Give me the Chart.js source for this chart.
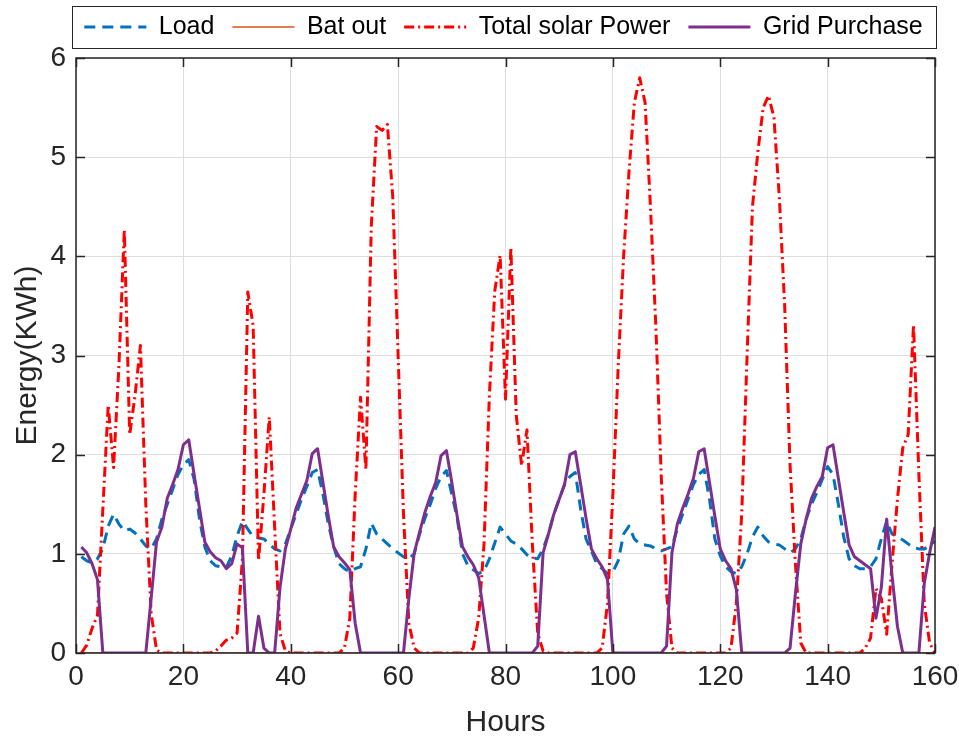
<!DOCTYPE html>
<html>
<head>
<meta charset="utf-8">
<script src="https://cdn.jsdelivr.net/npm/chart.js@4/dist/chart.umd.min.js"></script>
<style>
  html, body { margin: 0; padding: 0; background: #fff; }
  #wrap { width: 959px; height: 738px; }
</style>
</head>
<body>
<div id="wrap"><canvas id="energyChart" width="959" height="738"></canvas></div>
<script>
// hours 1..160
const hours = [];
for (let h = 1; h <= 160; h++) hours.push(h);

const xTicks = [0, 20, 40, 60, 80, 100, 120, 140, 160];
const yTicks = [0, 1, 2, 3, 4, 5, 6];

const load = [
    0.97, 0.93, 0.91, 0.95, 1.05, 1.28, 1.40, 1.30, 1.23, 1.25, 1.21, 1.15, 1.08, 1.05, 1.15, 1.35, 1.50, 1.65, 1.80, 1.90, 1.95, 1.75, 1.35, 1.07,
    0.93, 0.88, 0.87, 0.86, 0.98, 1.18, 1.33, 1.25, 1.17, 1.16, 1.15, 1.10, 1.05, 1.03, 1.10, 1.25, 1.40, 1.55, 1.68, 1.82, 1.85, 1.60, 1.30, 1.07,
    0.90, 0.85, 0.82, 0.85, 0.87, 1.05, 1.31, 1.20, 1.15, 1.10, 1.05, 1.01, 0.97, 0.95, 1.00, 1.20, 1.36, 1.50, 1.66, 1.78, 1.84, 1.60, 1.36, 1.00,
    0.88, 0.84, 0.80, 0.83, 0.95, 1.11, 1.27, 1.20, 1.13, 1.10, 1.05, 0.99, 0.96, 0.95, 1.05, 1.20, 1.40, 1.55, 1.70, 1.78, 1.82, 1.45, 1.15, 1.03,
    0.90, 0.85, 0.80, 0.82, 0.93, 1.20, 1.28, 1.15, 1.10, 1.09, 1.08, 1.05, 1.03, 1.05, 1.07, 1.25, 1.40, 1.55, 1.70, 1.80, 1.85, 1.55, 1.15, 0.98,
    0.87, 0.82, 0.80, 0.87, 1.00, 1.17, 1.27, 1.18, 1.12, 1.10, 1.09, 1.05, 1.01, 1.05, 1.15, 1.35, 1.50, 1.62, 1.75, 1.88, 1.80, 1.50, 1.17, 0.95,
    0.88, 0.85, 0.85, 0.87, 0.95, 1.15, 1.33, 1.20, 1.17, 1.14, 1.10, 1.06, 1.05, 1.05, 1.08, 1.13
];

const batOut = [
    0, 0, 0, 0, 0, 0, 0, 0, 0, 0, 0, 0, 0, 0, 0, 0, 0, 0, 0, 0, 0, 0, 0, 0,
    0, 0, 0, 0, 0, 0, 0, 0, 0, 0, 0, 0, 0, 0, 0, 0, 0, 0, 0, 0, 0, 0, 0, 0,
    0, 0, 0, 0, 0, 0, 0, 0, 0, 0, 0, 0, 0, 0, 0, 0, 0, 0, 0, 0, 0, 0, 0, 0,
    0, 0, 0, 0, 0, 0, 0, 0, 0, 0, 0, 0, 0, 0, 0, 0, 0, 0, 0, 0, 0, 0, 0, 0,
    0, 0, 0, 0, 0, 0, 0, 0, 0, 0, 0, 0, 0, 0, 0, 0, 0, 0, 0, 0, 0, 0, 0, 0,
    0, 0, 0, 0, 0, 0, 0, 0, 0, 0, 0, 0, 0, 0, 0, 0, 0, 0, 0, 0, 0, 0, 0, 0,
    0, 0, 0, 0, 0, 0, 0, 0, 0, 0, 0, 0, 0, 0, 0, 0
];

const solar = [
    0, 0.08, 0.25, 0.38, 1.45, 2.50, 1.87, 2.90, 4.27, 2.20, 2.60, 3.10, 1.50, 0.40, 0.03, 0, 0, 0, 0, 0, 0, 0, 0, 0,
    0, 0.02, 0.07, 0.13, 0.15, 0.20, 0.95, 3.64, 3.30, 0.93, 1.60, 2.38, 1.27, 0.20, 0.02, 0, 0, 0, 0, 0, 0, 0, 0, 0,
    0, 0.05, 0.35, 1.60, 2.58, 1.85, 4.30, 5.31, 5.27, 5.33, 4.60, 3.00, 1.40, 0.30, 0.05, 0, 0, 0, 0, 0, 0, 0, 0, 0,
    0, 0.05, 0.35, 1.10, 2.60, 3.65, 4.01, 2.56, 4.09, 2.40, 1.89, 2.25, 1.10, 0.20, 0.02, 0, 0, 0, 0, 0, 0, 0, 0, 0,
    0, 0.05, 0.50, 1.60, 2.90, 4.00, 4.85, 5.55, 5.80, 5.55, 4.50, 3.30, 1.80, 0.60, 0.05, 0, 0, 0, 0, 0, 0, 0, 0, 0,
    0, 0.05, 0.50, 1.40, 3.00, 4.50, 5.05, 5.50, 5.62, 5.40, 4.60, 3.50, 1.90, 0.90, 0.10, 0, 0, 0, 0, 0, 0, 0, 0, 0,
    0, 0, 0.05, 0.15, 0.65, 0.55, 0.19, 0.90, 1.55, 2.07, 2.20, 3.31, 1.80, 0.50, 0.10, 0
];

const gridPurchase = [
    1.07, 1.01, 0.90, 0.74, 0, 0, 0, 0, 0, 0, 0, 0, 0, 0.55, 1.12, 1.27, 1.56, 1.70, 1.85, 2.10, 2.15, 1.80, 1.46, 1.12,
    1.02, 0.96, 0.93, 0.85, 0.90, 1.10, 1.06, 0, 0, 0.37, 0.05, 0, 0, 0.66, 1.05, 1.25, 1.46, 1.60, 1.74, 2.01, 2.06, 1.72, 1.38, 1.07,
    0.97, 0.91, 0.84, 0.30, 0, 0, 0, 0, 0, 0, 0, 0, 0, 0.55, 1.01, 1.22, 1.42, 1.58, 1.72, 1.99, 2.04, 1.72, 1.38, 1.07,
    0.97, 0.89, 0.76, 0.38, 0, 0, 0, 0, 0, 0, 0, 0, 0, 0.07, 1.01, 1.20, 1.40, 1.55, 1.70, 2.00, 2.03, 1.70, 1.36, 1.05,
    0.95, 0.87, 0.74, 0, 0, 0, 0, 0, 0, 0, 0, 0, 0, 0.07, 1.01, 1.30, 1.46, 1.60, 1.76, 2.03, 2.06, 1.72, 1.38, 1.05,
    0.93, 0.85, 0.64, 0, 0, 0, 0, 0, 0, 0, 0, 0, 0.05, 0.60, 1.10, 1.35, 1.56, 1.68, 1.78, 2.07, 2.10, 1.76, 1.42, 1.09,
    0.97, 0.93, 0.89, 0.85, 0.35, 0.66, 1.35, 0.78, 0.27, 0, 0, 0, 0, 0.70, 1.01, 1.27
];

function points(values) {
    return values.map((v, i) => ({ x: hours[i], y: v }));
}

const FONT = "'Liberation Sans', Arial, sans-serif";
const AXIS = "#262626";

// inside tick marks, axes box and legend frame (MATLAB style)
const boxPlugin = {
    id: "boxPlugin",
    afterLayout(chart) {
        let lg = chart.legend;
        lg.left = 48;
        lg.right = 959;
        lg.top = -3.5;
    },
    afterDraw(chart) {
        let ctx = chart.ctx;
        let a = chart.chartArea;
        let xs = chart.scales.x, ys = chart.scales.y;
        ctx.save();
        ctx.strokeStyle = AXIS;
        ctx.lineWidth = 1.5;
        ctx.beginPath();
        xTicks.forEach(t => {
            let px = Math.round(xs.getPixelForValue(t)) + 0.5;
            ctx.moveTo(px, a.bottom); ctx.lineTo(px, a.bottom - 9);
            ctx.moveTo(px, a.top); ctx.lineTo(px, a.top + 9);
        });
        yTicks.forEach(t => {
            let py = Math.round(ys.getPixelForValue(t)) + 0.5;
            ctx.moveTo(a.left, py); ctx.lineTo(a.left + 9, py);
            ctx.moveTo(a.right, py); ctx.lineTo(a.right - 9, py);
        });
        ctx.stroke();
        ctx.strokeRect(a.left, a.top, a.right - a.left, a.bottom - a.top);
        ctx.lineWidth = 1;
        ctx.strokeRect(72.5, 6.5, 864, 42);
        ctx.restore();
    }
};

new Chart(document.getElementById("energyChart"), {
    type: "line",
    data: {
        datasets: [
            {
                label: "Load",
                data: points(load),
                borderColor: "#0072BD",
                borderWidth: 3,
                borderDash: [11, 7],
                order: 3
            },
            {
                label: "Bat out",
                data: points(batOut),
                borderColor: "#D95319",
                borderWidth: 1.5,
                order: 2
            },
            {
                label: "Total solar Power",
                data: points(solar),
                borderColor: "#FF0000",
                borderWidth: 3,
                borderDash: [10, 4, 2, 4],
                order: 1
            },
            {
                label: "Grid Purchase",
                data: points(gridPurchase),
                borderColor: "#7E2F8E",
                borderWidth: 3,
                order: 0
            }
        ]
    },
    options: {
        responsive: false,
        animation: false,
        devicePixelRatio: 1,
        layout: { padding: { top: 5, right: 0, left: 0, bottom: 0 } },
        elements: {
            point: { radius: 0 },
            line: { tension: 0, fill: false, borderJoinStyle: "round" }
        },
        plugins: {
            tooltip: { enabled: false },
            legend: {
                position: "top",
                align: "center",
                labels: {
                    usePointStyle: true,
                    pointStyle: "line",
                    pointStyleWidth: 62,
                    padding: 18,
                    color: "#000",
                    font: { family: FONT, size: 25 },
                    generateLabels: chart => chart.data.datasets.map((ds, i) => ({
                        text: ds.label,
                        datasetIndex: i,
                        strokeStyle: ds.borderColor,
                        fillStyle: ds.borderColor,
                        lineWidth: ds.borderWidth,
                        lineDash: ds.borderDash || [],
                        pointStyle: "line",
                        fontColor: "#000",
                        hidden: false
                    }))
                }
            }
        },
        scales: {
            x: {
                type: "linear",
                min: 0,
                max: 160,
                afterBuildTicks: s => { s.ticks = xTicks.map(v => ({ value: v })); },
                afterFit: s => { s.height = 85; s.paddingLeft = 0; s.paddingRight = 24; },
                border: { display: false },
                grid: { color: "#dedede", lineWidth: 1, drawTicks: false },
                ticks: {
                    padding: 7,
                    color: AXIS,
                    maxRotation: 0,
                    font: { family: FONT, size: 28 }
                },
                title: {
                    display: true,
                    text: "Hours",
                    color: AXIS,
                    padding: { top: 0, bottom: -3 },
                    font: { family: FONT, size: 30 }
                }
            },
            y: {
                min: 0,
                max: 6,
                afterBuildTicks: s => { s.ticks = yTicks.map(v => ({ value: v })); },
                afterFit: s => { s.width = 76; },
                border: { display: false },
                grid: { color: "#dedede", lineWidth: 1, drawTicks: false },
                ticks: {
                    padding: 10,
                    color: AXIS,
                    font: { family: FONT, size: 28 }
                },
                title: {
                    display: true,
                    text: "Energy(KWh)",
                    color: AXIS,
                    padding: { top: 10, bottom: 0 },
                    font: { family: FONT, size: 30 }
                }
            }
        }
    },
    plugins: [boxPlugin]
});
</script>
</body>
</html>
